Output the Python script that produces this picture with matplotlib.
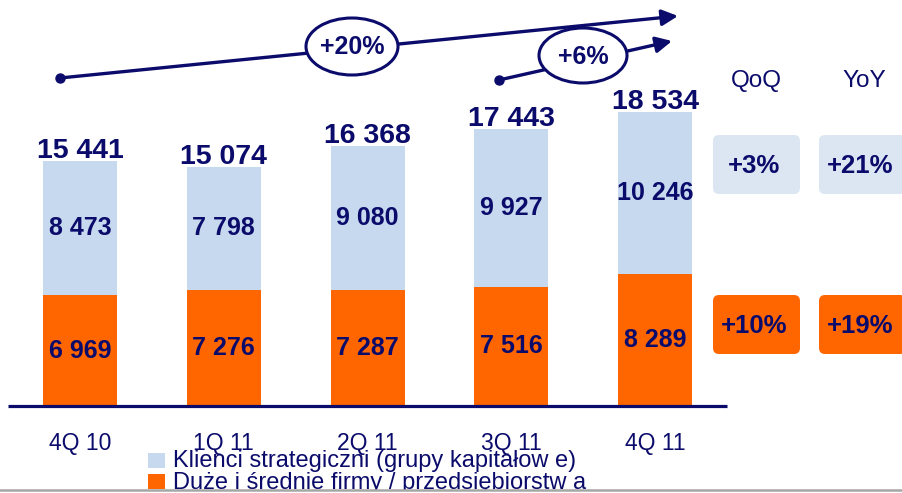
import matplotlib
matplotlib.use("Agg")
import matplotlib.pyplot as plt
from matplotlib.patches import Ellipse, FancyBboxPatch, Rectangle

plt.rcParams['font.family'] = ['Liberation Sans', 'DejaVu Sans']

# data
quarters = ['4Q 10', '1Q 11', '2Q 11', '3Q 11', '4Q 11']
duze = [6969, 7276, 7287, 7516, 8289]
strategiczni = [8473, 7798, 9080, 9927, 10246]
totals = [15441, 15074, 16368, 17443, 18534]
legend_labels = ['Klienci strategiczni (grupy kapitałow e)',
                 'Duże i średnie firmy / przedsiębiorstw a']
qoq = ['+3%', '+10%']
yoy = ['+21%', '+19%']
growth_long = '+20%'
growth_short = '+6%'

navy = '#0B0B6B'
light = '#C6D9EE'
orange = '#FF6600'
box_light = '#DCE6F2'

def fmt(v):
    return f'{v:,}'.replace(',', ' ')

fig = plt.figure(figsize=(9.03, 4.93), dpi=100)

# bar axes covers the whole figure, scaled so bars land where they should
ax = fig.add_axes([0, 0, 1, 1])
px_x = 143.8
px_y = 15441 / 245.3
ax.set_xlim(-80 / px_x, (903 - 80) / px_x)
ax.set_ylim(-(493 - 406) * px_y, 406 * px_y)
ax.axis('off')

x = list(range(len(quarters)))
ax.bar(x, duze, width=0.515, color=orange, zorder=2)
ax.bar(x, strategiczni, width=0.515, bottom=duze, color=light, zorder=2)
ax.plot([-0.5, 4.5], [0, 0], color=navy, lw=2.3, zorder=3, solid_capstyle='butt')

for i in x:
    ax.text(i, duze[i] / 2, fmt(duze[i]), ha='center', va='center',
            fontsize=18, fontweight='bold', color=navy, zorder=4)
    ax.text(i, duze[i] + strategiczni[i] / 2, fmt(strategiczni[i]),
            ha='center', va='center', fontsize=18, fontweight='bold',
            color=navy, zorder=4)
    ax.annotate(fmt(totals[i]), (i, totals[i]), xytext=(0, 2),
                textcoords='offset points', ha='center', va='baseline',
                fontsize=20.5, fontweight='bold', color=navy)
    ax.annotate(quarters[i], (i, 0), xytext=(0, -31.5),
                textcoords='offset points', ha='center', va='baseline',
                fontsize=16.5, color=navy)

# overlay in pixel units for the decorations
ov = fig.add_axes([0, 0, 1, 1], facecolor='none')
ov.set_xlim(0, 903)
ov.set_ylim(493, 0)
ov.axis('off')

# growth arrows
ov.annotate('', xy=(678, 16), xytext=(60, 78),
            arrowprops=dict(arrowstyle='-|>', lw=2.4, color=navy,
                            mutation_scale=24, shrinkA=0, shrinkB=0))
ov.plot(60, 78, 'o', color=navy, ms=6.5)
ov.annotate('', xy=(672, 41), xytext=(499, 80),
            arrowprops=dict(arrowstyle='-|>', lw=2.4, color=navy,
                            mutation_scale=24, shrinkA=0, shrinkB=0))
ov.plot(499, 80, 'o', color=navy, ms=6.5)

ov.add_patch(Ellipse((352, 46.5), 92, 57, facecolor='white', edgecolor=navy, lw=2.2, zorder=5))
ov.text(352, 47, growth_long, ha='center', va='center', fontsize=18,
        fontweight='bold', color=navy, zorder=6)
ov.add_patch(Ellipse((583, 55.5), 88, 55, facecolor='white', edgecolor=navy, lw=2.2, zorder=5))
ov.text(583, 57, growth_short, ha='center', va='center', fontsize=18,
        fontweight='bold', color=navy, zorder=6)

# QoQ / YoY boxes
ov.text(756, 81, 'QoQ', ha='center', va='center', fontsize=17.5, color=navy)
ov.text(864, 81, 'YoY', ha='center', va='center', fontsize=17.5, color=navy)
box_cols = [box_light, orange]
box_tops = [135, 295]
for k in range(2):
    for bx, vals in [(713, qoq), (819, yoy)]:
        ov.add_patch(FancyBboxPatch((bx + 6, box_tops[k] + 6), 87 - 12, 59 - 12,
                                    boxstyle='round,pad=6', facecolor=box_cols[k],
                                    edgecolor='none', zorder=2))
        ov.text(bx + 41, box_tops[k] + 31, vals[k], ha='center', va='center',
                fontsize=18.5, fontweight='bold', color=navy, zorder=3)

# legend
for k, (lab, col) in enumerate(zip(legend_labels, [light, orange])):
    y0 = 452.5 + k * 21.5
    ov.add_patch(Rectangle((148, y0), 17, 15, facecolor=col, edgecolor='none'))
    ov.text(173, y0 + 14.5, lab, ha='left', va='baseline', fontsize=17, color=navy)

ov.plot([0, 903], [490, 490], color='#A6A6A6', lw=1.8, zorder=10)
ov.add_patch(Rectangle((0, 491), 903, 3, facecolor='white', edgecolor='none', zorder=9))

fig.savefig('out.png', dpi=100)
